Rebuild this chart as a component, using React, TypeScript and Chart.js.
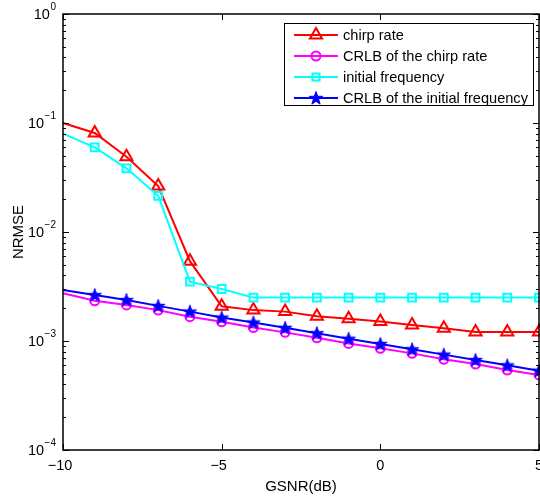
import React, { useEffect, useRef } from 'react';
import { Chart, registerables } from 'chart.js';
import { drawPoint } from 'chart.js/helpers';

Chart.register(...registerables);

// ---- data ----
const gsnr = [-10, -9, -8, -7, -6, -5, -4, -3, -2, -1, 0, 1, 2, 3, 4, 5];
const chirpRate = [0.1, 0.081, 0.049, 0.0264, 0.0054, 0.00208, 0.00192, 0.00186, 0.00169, 0.0016, 0.00151, 0.0014, 0.00131, 0.00121, 0.00121, 0.00121];
const crlbChirpRate = [0.00274, 0.00234, 0.00214, 0.00192, 0.00167, 0.0015, 0.00133, 0.0012, 0.00107, 0.00095, 0.000857, 0.00077, 0.00068, 0.000615, 0.000542, 0.000488];
const initialFrequency = [0.08, 0.0598, 0.0384, 0.0215, 0.0035, 0.003, 0.0025, 0.0025, 0.0025, 0.0025, 0.0025, 0.0025, 0.0025, 0.0025, 0.0025, 0.0025];
const crlbInitialFrequency = [0.00294, 0.00264, 0.00238, 0.0021, 0.00186, 0.00164, 0.00148, 0.00132, 0.00118, 0.00105, 0.00094, 0.00084, 0.00075, 0.00067, 0.000598, 0.000534];
const seriesNames = ['chirp rate', 'CRLB of the chirp rate', 'initial frequency', 'CRLB of the initial frequency'];
const xTicks = [-10, -5, 0, 5];
const xTickLabels = ['\u221210', '\u22125', '0', '5'];
const yDecades = [0, -1, -2, -3, -4];

const FONT = '"Liberation Sans", Arial, Helvetica, sans-serif';

function makeStar(color: string, R: number): HTMLCanvasElement {
  const size = Math.ceil(R * 2 + 2);
  const c = document.createElement('canvas');
  c.width = size;
  c.height = size;
  const g = c.getContext('2d')!;
  g.fillStyle = color;
  g.strokeStyle = color;
  g.lineWidth = 1;
  g.beginPath();
  for (let i = 0; i < 10; i++) {
    const r = i % 2 === 0 ? R : R * 0.4;
    const a = -Math.PI / 2 + (i * Math.PI) / 5;
    const px = size / 2 + r * Math.cos(a);
    const py = size / 2 + r * Math.sin(a) + 0.5;
    if (i === 0) g.moveTo(px, py);
    else g.lineTo(px, py);
  }
  g.closePath();
  g.fill();
  g.stroke();
  return c;
}

const framePlugin = {
  id: 'matlabFrame',
  afterDatasetsDraw(chart: any) {
    const { ctx, chartArea } = chart;
    const { left, right, top, bottom } = chartArea;
    const xs = chart.scales.x;
    const ys = chart.scales.y;
    ctx.save();
    ctx.strokeStyle = '#000';
    ctx.lineWidth = 1.5;
    ctx.strokeRect(left, top, right - left, bottom - top);
    ctx.lineWidth = 1;
    ctx.beginPath();
    // y ticks (log)
    yDecades.forEach((d) => {
      const py = Math.round(ys.getPixelForValue(Math.pow(10, d))) + 0.5;
      ctx.moveTo(left, py); ctx.lineTo(left + 6, py);
      ctx.moveTo(right, py); ctx.lineTo(right - 6, py);
      if (d < 0) {
        for (let k = 2; k <= 9; k++) {
          const pm = Math.round(ys.getPixelForValue(k * Math.pow(10, d))) + 0.5;
          ctx.moveTo(left, pm); ctx.lineTo(left + 3, pm);
          ctx.moveTo(right, pm); ctx.lineTo(right - 3, pm);
        }
      }
    });
    xTicks.forEach((v) => {
      const px = Math.round(xs.getPixelForValue(v)) + 0.5;
      ctx.moveTo(px, bottom); ctx.lineTo(px, bottom - 6);
      ctx.moveTo(px, top); ctx.lineTo(px, top + 6);
    });
    ctx.stroke();

    ctx.fillStyle = '#000';
    // x tick labels
    ctx.font = `14.5px ${FONT}`;
    ctx.textAlign = 'center';
    ctx.textBaseline = 'middle';
    xTicks.forEach((v, i) => {
      const px = xs.getPixelForValue(v);
      ctx.fillText(xTickLabels[i], px - (v < 0 ? 3 : 0), bottom + 16);
    });
    // y tick labels 10^d
    yDecades.forEach((d) => {
      const py = ys.getPixelForValue(Math.pow(10, d));
      const expStr = d === 0 ? '0' : '\u2212' + String(-d);
      ctx.font = `10px ${FONT}`;
      const ew = ctx.measureText(expStr).width;
      const rightEdge = 56;
      ctx.textAlign = 'left';
      ctx.textBaseline = 'middle';
      ctx.fillText(expStr, rightEdge - ew, py - 7);
      ctx.font = `14.5px ${FONT}`;
      ctx.textAlign = 'right';
      ctx.fillText('10', rightEdge - ew - 0.5, py + 1);
    });
    // axis titles
    ctx.font = `15px ${FONT}`;
    ctx.textAlign = 'center';
    ctx.textBaseline = 'middle';
    ctx.fillText('GSNR(dB)', (left + right) / 2, 487);
    ctx.save();
    ctx.translate(19, (top + bottom) / 2);
    ctx.rotate(-Math.PI / 2);
    ctx.fillText('NRMSE', 0, 0);
    ctx.restore();
    ctx.restore();
  },
  afterDraw(chart: any) {
    const { ctx } = chart;
    const bx = 284, by = 23, bw = 249, bh = 82;
    ctx.save();
    ctx.fillStyle = '#fff';
    ctx.fillRect(bx, by, bw, bh);
    ctx.strokeStyle = '#000';
    ctx.lineWidth = 1;
    ctx.strokeRect(bx + 0.5, by + 0.5, bw, bh);
    const rowY = [35, 56, 77, 98];
    chart.data.datasets.forEach((ds: any, i: number) => {
      const y = rowY[i];
      ctx.strokeStyle = ds.borderColor;
      ctx.fillStyle = ds.borderColor;
      ctx.lineWidth = 2;
      ctx.beginPath();
      ctx.moveTo(294, y);
      ctx.lineTo(338, y);
      ctx.stroke();
      ctx.lineWidth = ds.pointBorderWidth;
      ctx.fillStyle = ds.pointBackgroundColor;
      drawPoint(ctx, { pointStyle: ds.pointStyle, radius: ds.legendRadius, rotation: 0, borderWidth: ds.pointBorderWidth }, 316, y);
      ctx.fillStyle = '#000';
      ctx.font = `14.6px ${FONT}`;
      ctx.textAlign = 'left';
      ctx.textBaseline = 'middle';
      ctx.fillText(seriesNames[i], 343, y + 1);
    });
    ctx.restore();
  },
};

export default function App() {
  const ref = useRef<HTMLCanvasElement | null>(null);
  useEffect(() => {
    const star = makeStar('#0000ff', 7);
    const toPts = (arr: number[]) => gsnr.map((x, i) => ({ x, y: arr[i] }));
    const firstHidden = (r: number) => (c: any) => (c.dataIndex === 0 ? 0 : r);
    const chart = new Chart(ref.current!, {
      type: 'line',
      data: {
        datasets: [
          {
            label: seriesNames[0], data: toPts(chirpRate), borderColor: '#ff0000', borderWidth: 2,
            pointStyle: 'triangle', pointRadius: firstHidden(7), legendRadius: 7,
            pointBorderColor: '#ff0000', pointBackgroundColor: 'rgba(0,0,0,0)', pointBorderWidth: 2, order: 3,
          } as any,
          {
            label: seriesNames[1], data: toPts(crlbChirpRate), borderColor: '#ff00ff', borderWidth: 2,
            pointStyle: 'circle', pointRadius: firstHidden(4.5), legendRadius: 4.5,
            pointBorderColor: '#ff00ff', pointBackgroundColor: 'rgba(0,0,0,0)', pointBorderWidth: 2, order: 2,
          } as any,
          {
            label: seriesNames[2], data: toPts(initialFrequency), borderColor: '#00ffff', borderWidth: 2,
            pointStyle: 'rect', pointRadius: firstHidden(5.5), legendRadius: 5,
            pointBorderColor: '#00ffff', pointBackgroundColor: 'rgba(0,0,0,0)', pointBorderWidth: 2, order: 1,
          } as any,
          {
            label: seriesNames[3], data: toPts(crlbInitialFrequency), borderColor: '#0000ff', borderWidth: 2,
            pointStyle: star, pointRadius: firstHidden(7), legendRadius: 7,
            pointBorderColor: '#0000ff', pointBackgroundColor: '#0000ff', pointBorderWidth: 1, order: 0,
          } as any,
        ],
      },
      options: {
        animation: false,
        responsive: false,
        maintainAspectRatio: false,
        devicePixelRatio: 1,
        layout: { padding: { left: 63, right: 1, top: 14, bottom: 49 }, autoPadding: false } as any,
        elements: { line: { tension: 0 } },
        datasets: { line: { clip: false } as any },
        plugins: { legend: { display: false }, tooltip: { enabled: false }, title: { display: false } },
        scales: {
          x: { type: 'linear', min: -10, max: 5, display: false },
          y: { type: 'logarithmic', min: 1e-4, max: 1, display: false },
        },
      },
      plugins: [framePlugin],
    });
    return () => chart.destroy();
  }, []);
  return (
    <div style={{ position: 'absolute', left: 0, top: 0, width: 540, height: 499, background: '#fff' }}>
      <canvas ref={ref} width={540} height={499} style={{ display: 'block', width: 540, height: 499 }} />
    </div>
  );
}
